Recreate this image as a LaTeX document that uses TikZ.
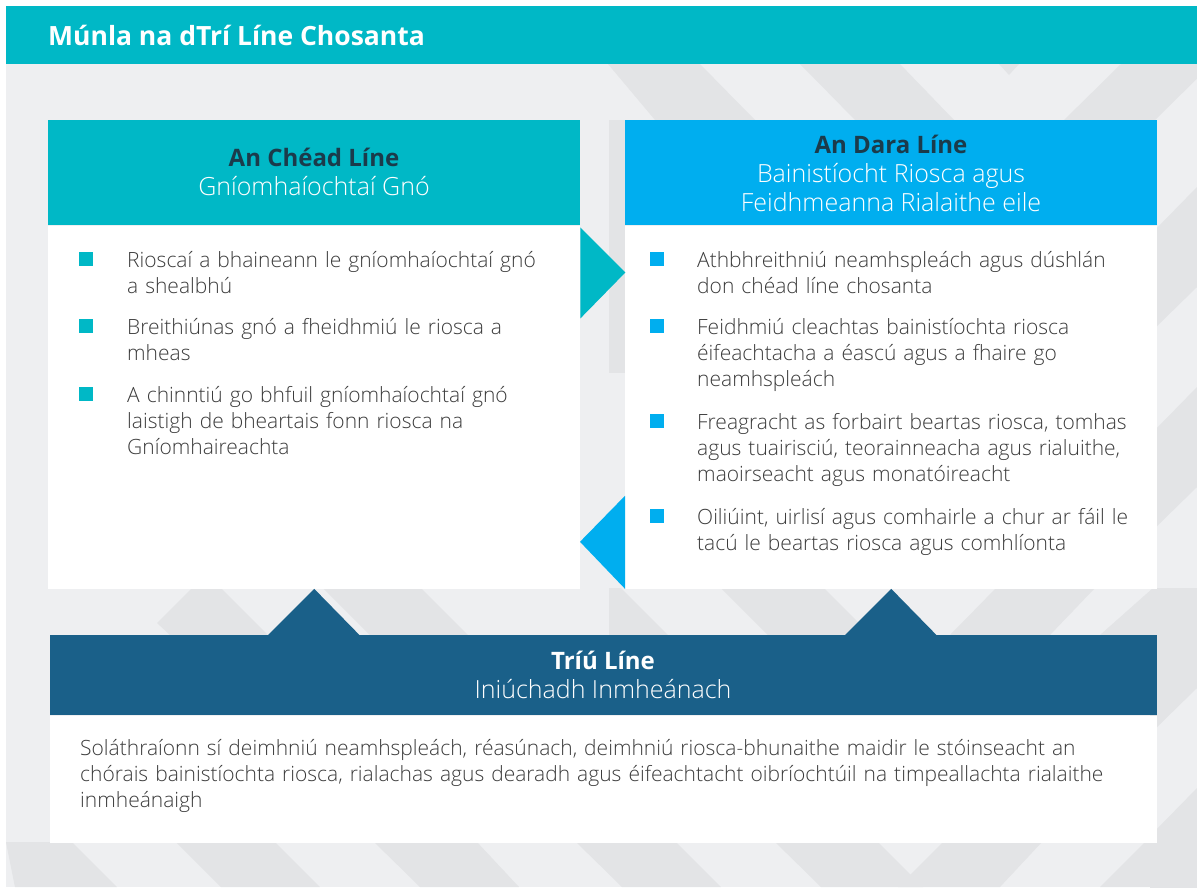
\documentclass[tikz,border=0pt]{standalone}
\usepackage{fontspec}
\setmainfont{Open Sans}
\newfontfamily\lightfont{Open Sans Light}
\usetikzlibrary{positioning}
\definecolor{linteal}{HTML}{00B8C6}
\definecolor{lincyan}{HTML}{00AEEF}
\definecolor{linnavy}{HTML}{1A6089}
\definecolor{hdtxt}{HTML}{1B3B4B}
\definecolor{bodytxt}{HTML}{3C3C3C}
\definecolor{bggrey}{HTML}{EEEFF1}
\definecolor{bgstripe}{HTML}{E3E4E6}

\begin{document}
\begin{tikzpicture}[x=1pt,y=-1pt,
    box/.style={inner sep=0pt,minimum width=532pt},
    sq/.style={inner sep=0pt,minimum size=14pt},
    item/.style={anchor=north west,inner sep=0pt,align=left,text width=470pt,text=bodytxt,
      font=\lightfont\fontsize{21}{26}\selectfont,execute at begin node={\rule{0pt}{24pt}}},
    headtxt/.style={anchor=north,inner sep=0pt,align=center,text=white,
      font=\lightfont\fontsize{25}{29}\selectfont}]
  \useasboundingbox (0,0) rectangle (1197,887);
  \fill[white] (0,0) rectangle (1197,887);
  \fill[bggrey] (6,64) rectangle (1197,887);
  % stripes of the background
  \begin{scope}
    \clip (6,64) rectangle (1197,887);
    \foreach \a/\b/\c/\d/\t/\u in {608/700/755/655/64/120, 800/900/954/855/64/120,
        1121/1212/1155/1064/64/120, 323/421/468/370/588/635, 721/824/871/768/588/635,
        996/1095/1050/950/588/635, 1153/1250/1197/1100/588/635, 609/621/668/609/588/635,
        6/72/117/15/842/887, 176/275/320/221/842/887, 374/477/519/420/842/887,
        576/676/721/622/842/887, 775/878/923/821/842/887, 943/1042/1000/898/842/887,
        1145/1240/1197/1100/842/887}
      \fill[bgstripe] (\a,\t) -- (\b,\t) -- (\c,\u) -- (\d,\u) -- cycle;
    \foreach \t in {229,429,630,830}
      \fill[bgstripe] (1150,\t+6) -- (1197,\t-42) -- (1197,\t+58) -- (1150,\t+104) -- cycle;
    \fill[bgstripe] (192,588) -- (221,588) -- (268,635) -- (170,635) -- (157,623) -- cycle;
    \fill[bgstripe] (999,64) -- (1019,64) -- (1009,75) -- cycle;
    \fill[bgstripe] (609,120) rectangle (625,373);
  \end{scope}

  \fill[linteal] (6,6) rectangle (1197,64);
  \node[anchor=base west,inner sep=0pt,text=white,font=\bfseries\fontsize{26.5}{30}\selectfont]
    (title) at (48,45) {Múnla na dTrí Líne Chosanta};

  \node[box,fill=linteal,minimum height=105pt,anchor=north west] (h1) at (48,120) {};
  \node[box,fill=white,minimum height=363pt,below=0pt of h1] (b1) {};
  \node[box,fill=lincyan,minimum height=105pt,anchor=north west] (h2) at (625,120) {};
  \node[box,fill=white,minimum height=363pt,below=0pt of h2] (b2) {};
  \node[box,fill=linnavy,minimum width=1107pt,minimum height=80pt,anchor=north west] (h3) at (50,635) {};
  \node[box,fill=white,minimum width=1107pt,minimum height=127pt,below=0pt of h3] (b3) {};

  \fill[linteal] ([yshift=-2pt]b1.north east) -- ++(45,45) -- ++(-45,46) -- cycle;
  \fill[lincyan] ([yshift=93pt]b2.south west) -- ++(-45,46) -- ++(45,47) -- cycle;
  \fill[linnavy] (b1.south) -- ++(46,47) -- ++(-93,0) -- cycle;
  \fill[linnavy] (b2.south) -- ++(46,47) -- ++(-93,0) -- cycle;

  \node[headtxt] (t1) at (314,148) {\textcolor{hdtxt}{\rmfamily\bfseries\fontsize{24}{29}\selectfont An Chéad Líne}\\Gníomhaíochtaí Gnó};
  \node[headtxt] (t2) at (891,135) {\textcolor{hdtxt}{\rmfamily\bfseries\fontsize{24}{29}\selectfont An Dara Líne}\\Bainistíocht Riosca agus\\Feidhmeanna Rialaithe eile};
  \node[headtxt] (t3) at (603,651) {{\rmfamily\bfseries\fontsize{24}{29}\selectfont Tríú Líne}\\Iniúchadh Inmheánach};

  \node[sq,fill=linteal] (p11) at (86,259) {};
  \node[sq,fill=linteal] (p12) at (86,326) {};
  \node[sq,fill=linteal] (p13) at (86,394) {};
  \node[item] (i11) at (127,243) {Rioscaí a bhaineann le gníomhaíochtaí gnó\\a shealbhú};
  \node[item] (i12) at (127,310) {Breithiúnas gnó a fheidhmiú le riosca a\\mheas};
  \node[item] (i13) at (127,378) {A chinntiú go bhfuil gníomhaíochtaí gnó\\laistigh de bheartais fonn riosca na\\Gníomhaireachta};

  \node[sq,fill=lincyan] (p21) at (657,259) {};
  \node[sq,fill=lincyan] (p22) at (657,326) {};
  \node[sq,fill=lincyan] (p23) at (657,421) {};
  \node[sq,fill=lincyan] (p24) at (657,516) {};
  \node[item] (i21) at (697,243) {Athbhreithniú neamhspleách agus dúshlán\\don chéad líne chosanta};
  \node[item] (i22) at (697,310) {Feidhmiú cleachtas bainistíochta riosca\\éifeachtacha a éascú agus a fhaire go\\neamhspleách};
  \node[item] (i23) at (697,405) {Freagracht as forbairt beartas riosca, tomhas\\agus tuairisciú, teorainneacha agus rialuithe,\\maoirseacht agus monatóireacht};
  \node[item] (i24) at (697,500) {Oiliúint, uirlisí agus comhairle a chur ar fáil le\\tacú le beartas riosca agus comhlíonta};

  \node[item,text width=1100pt] (i31) at (80,731) {Soláthraíonn sí deimhniú neamhspleách, réasúnach, deimhniú riosca-bhunaithe maidir le stóinseacht an\\chórais bainistíochta riosca, rialachas agus dearadh agus éifeachtacht oibríochtúil na timpeallachta rialaithe\\inmheánaigh};
\end{tikzpicture}
\end{document}
